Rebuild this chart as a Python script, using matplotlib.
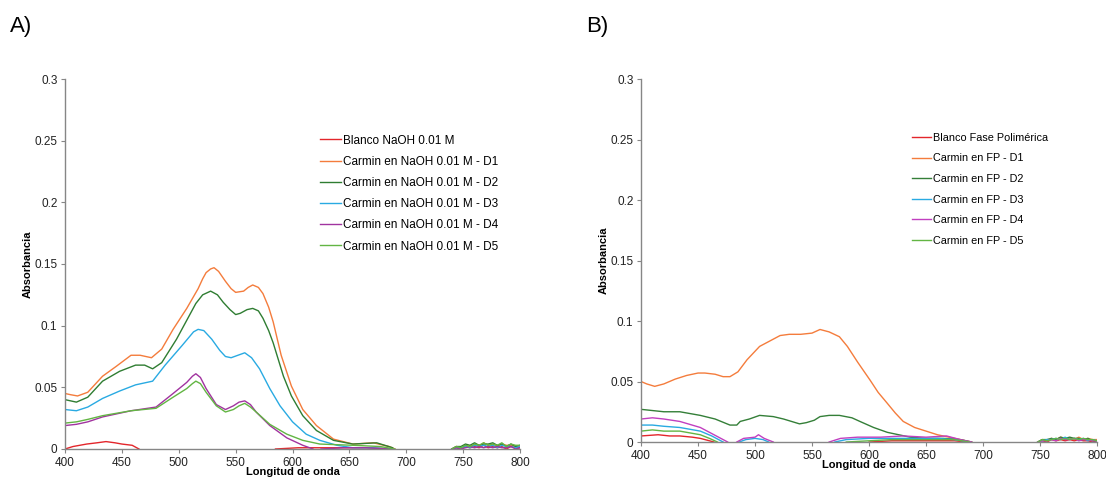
import numpy as np
import matplotlib
matplotlib.use("Agg")
import matplotlib.pyplot as plt
from matplotlib.ticker import FuncFormatter

plt.rcParams["font.family"] = ["Liberation Sans", "DejaVu Sans"]

NA = np.nan

# ---------------- Panel A: Carmín en NaOH 0.01 M ----------------
labels_a = ["Blanco NaOH 0.01 M",
            "Carmin en NaOH 0.01 M - D1",
            "Carmin en NaOH 0.01 M - D2",
            "Carmin en NaOH 0.01 M - D3",
            "Carmin en NaOH 0.01 M - D4",
            "Carmin en NaOH 0.01 M - D5"]
colors_a = ["#e3262b", "#f47c3c", "#2f7d32", "#29aae2", "#a1339f", "#62b543"]

wl_a_blank = [400, 407, 419, 428, 436, 444, 450, 459, 465, NA, 585, 605, 625, 645, 665, 688]
abs_a_blank = [0.000, 0.002, 0.004, 0.005, 0.006, 0.005, 0.004, 0.003, 0.000, NA, 0.000, 0.001, 0.001, 0.001, 0.001, 0.000]

wl_a_d1 = [400, 405, 411, 420, 433, 445, 458, 466, 476, 485, 495, 507, 517, 521, 524, 528, 531, 535, 541,
           546, 550, 557, 561, 565, 570, 574, 579, 583, 590, 599, 609, 621, 636, 653, 671, 685, 690]
abs_a_d1 = [0.045, 0.044, 0.043, 0.046, 0.059, 0.067, 0.076, 0.076, 0.074, 0.081, 0.097, 0.114, 0.130, 0.138,
            0.143, 0.146, 0.147, 0.144, 0.136, 0.130, 0.127, 0.128, 0.131, 0.133, 0.131, 0.126, 0.115,
            0.103, 0.076, 0.051, 0.032, 0.019, 0.008, 0.004, 0.005, 0.002, 0.000]

wl_a_d2 = [400, 410, 420, 433, 448, 462, 470, 477, 485, 498, 515, 521, 528, 534, 539, 545, 550, 554, 560,
           565, 570, 574, 579, 583, 592, 599, 609, 621, 636, 653, 674, 688]
abs_a_d2 = [0.040, 0.038, 0.042, 0.055, 0.063, 0.068, 0.068, 0.065, 0.070, 0.089, 0.118, 0.125, 0.128,
            0.125, 0.119, 0.113, 0.109, 0.110, 0.113, 0.114, 0.112, 0.106, 0.096, 0.086, 0.059, 0.043,
            0.027, 0.015, 0.007, 0.004, 0.005, 0.001]

wl_a_d3 = [400, 410, 420, 433, 448, 462, 477, 488, 503, 513, 517, 522, 529, 536, 541, 546, 552, 558,
           564, 571, 580, 589, 600, 612, 624, 639, 653, 670, 688]
abs_a_d3 = [0.032, 0.031, 0.034, 0.041, 0.047, 0.052, 0.055, 0.068, 0.084, 0.095, 0.097, 0.096, 0.089,
            0.080, 0.075, 0.074, 0.076, 0.078, 0.074, 0.065, 0.049, 0.035, 0.022, 0.012, 0.007, 0.003,
            0.001, 0.001, 0.000]

wl_a_d4 = [400, 410, 420, 433, 458, 480, 495, 507, 512, 515, 519, 524, 533, 541, 548, 553, 558, 563,
           568, 580, 595, 609, 618, NA, 625, 645, 665, 685]
abs_a_d4 = [0.019, 0.020, 0.022, 0.026, 0.031, 0.034, 0.045, 0.054, 0.059, 0.061, 0.058, 0.049, 0.036,
            0.032, 0.035, 0.038, 0.039, 0.036, 0.030, 0.019, 0.009, 0.003, 0.000, NA, 0.000, 0.001,
            0.001, 0.000]

wl_a_d5 = [400, 410, 420, 433, 458, 480, 495, 507, 512, 515, 519, 524, 533, 541, 548, 553, 558, 563,
           568, 580, 595, 609, 624, 653, 677, 690]
abs_a_d5 = [0.021, 0.022, 0.024, 0.027, 0.031, 0.033, 0.042, 0.049, 0.053, 0.055, 0.053, 0.046, 0.035,
            0.030, 0.032, 0.035, 0.037, 0.034, 0.030, 0.020, 0.012, 0.007, 0.004, 0.003, 0.002, 0.000]

# noisy baseline band at the red end of the spectrum
tail_wl_a = [740, 744, 748, 752, 756, 760, 764, 768, 772, 776, 780, 784, 788, 792, 796, 800]
tail_a_blank = [0.000, 0.001, 0.000, 0.002, 0.001, 0.002, 0.001, 0.003, 0.001, 0.002, 0.001, 0.002, 0.000, 0.002, 0.001, 0.001]
tail_a_d1 = [0.000, 0.002, 0.001, 0.003, 0.002, 0.004, 0.002, 0.005, 0.003, 0.004, 0.002, 0.004, 0.003, 0.003, 0.002, 0.002]
tail_a_d2 = [0.000, 0.002, 0.002, 0.004, 0.003, 0.005, 0.003, 0.004, 0.004, 0.005, 0.003, 0.004, 0.002, 0.004, 0.002, 0.003]
tail_a_d3 = [0.000, 0.001, 0.001, 0.002, 0.001, 0.003, 0.002, 0.003, 0.002, 0.003, 0.001, 0.003, 0.002, 0.002, 0.001, 0.002]
tail_a_d4 = [0.000, 0.001, 0.000, 0.001, 0.002, 0.001, 0.002, 0.001, 0.002, 0.001, 0.002, 0.001, 0.001, 0.002, 0.000, 0.001]
tail_a_d5 = [0.000, 0.002, 0.001, 0.003, 0.002, 0.004, 0.003, 0.005, 0.003, 0.004, 0.003, 0.005, 0.002, 0.004, 0.003, 0.003]

# ---------------- Panel B: Carmín en fase polimérica ----------------
labels_b = ["Blanco Fase Polimérica",
            "Carmin en FP - D1",
            "Carmin en FP - D2",
            "Carmin en FP - D3",
            "Carmin en FP - D4",
            "Carmin en FP - D5"]
colors_b = ["#e3262b", "#f47c3c", "#347f38", "#29aae2", "#c13fc0", "#62b543"]

wl_b_blank = [400, 415, 425, 434, 445, 452, 460, 464, NA, 600, 620, 640, 660, 675, 685]
abs_b_blank = [0.005, 0.006, 0.005, 0.005, 0.004, 0.003, 0.001, 0.000, NA, 0.000, 0.001, 0.001, 0.001, 0.001, 0.000]

wl_b_d1 = [400, 405, 412, 420, 430, 440, 450, 456, 465, 472, 478, 485, 493, 504, 512, 522, 530, 540,
           550, 557, 565, 574, 581, 590, 601, 608, 616, 623, 630, 640, 650, 660, 670, 680, 690]
abs_b_d1 = [0.050, 0.048, 0.046, 0.048, 0.052, 0.055, 0.057, 0.057, 0.056, 0.054, 0.054, 0.058, 0.068,
            0.079, 0.083, 0.088, 0.089, 0.089, 0.090, 0.093, 0.091, 0.087, 0.079, 0.066, 0.051, 0.041,
            0.032, 0.024, 0.017, 0.012, 0.009, 0.006, 0.004, 0.002, 0.000]

wl_b_d2 = [400, 410, 420, 434, 452, 465, 478, 484, 487, 495, 504, 516, 525, 539, 545, 552, 557, 565,
           574, 585, 592, 604, 616, 626, 636, 650, 665, 680, 690]
abs_b_d2 = [0.027, 0.026, 0.025, 0.025, 0.022, 0.019, 0.014, 0.014, 0.017, 0.019, 0.022, 0.021, 0.019,
            0.015, 0.016, 0.018, 0.021, 0.022, 0.022, 0.020, 0.017, 0.012, 0.008, 0.006, 0.004, 0.003,
            0.003, 0.002, 0.000]

wl_b_d3 = [400, 410, 420, 434, 452, 462, 468, 472, NA, 486, 492, 500, 507, 512, NA,
           570, 580, 600, 620, 640, 660, 675, 688]
abs_b_d3 = [0.014, 0.014, 0.013, 0.012, 0.009, 0.005, 0.002, 0.000, NA, 0.000, 0.002, 0.003, 0.002, 0.000, NA,
            0.000, 0.002, 0.003, 0.003, 0.003, 0.003, 0.002, 0.000]

wl_b_d4 = [400, 410, 420, 434, 452, 462, 470, 476, NA, 484, 490, 500, 503, 508, 516, NA,
           565, 575, 590, 610, 630, 650, 668, 680, 690]
abs_b_d4 = [0.019, 0.020, 0.019, 0.017, 0.012, 0.007, 0.003, 0.000, NA, 0.000, 0.003, 0.004, 0.006, 0.003, 0.000, NA,
            0.000, 0.003, 0.004, 0.004, 0.005, 0.004, 0.005, 0.002, 0.000]

wl_b_d5 = [400, 410, 420, 434, 452, 460, 467, NA, 580, 600, 620, 640, 660, 675, 688]
abs_b_d5 = [0.009, 0.010, 0.009, 0.009, 0.006, 0.003, 0.000, NA, 0.000, 0.001, 0.002, 0.002, 0.002, 0.002, 0.000]

tail_wl_b = [748, 752, 756, 760, 764, 768, 772, 776, 780, 784, 788, 792, 796, 800]
tail_b_blank = [0.000, 0.001, 0.000, 0.002, 0.001, 0.002, 0.001, 0.002, 0.001, 0.002, 0.001, 0.001, 0.000, 0.001]
tail_b_d1 = [0.000, 0.002, 0.001, 0.003, 0.002, 0.004, 0.003, 0.003, 0.002, 0.004, 0.002, 0.003, 0.002, 0.002]
tail_b_d2 = [0.000, 0.002, 0.002, 0.003, 0.002, 0.004, 0.003, 0.004, 0.003, 0.003, 0.002, 0.003, 0.001, 0.001]
tail_b_d3 = [0.000, 0.001, 0.002, 0.002, 0.003, 0.002, 0.004, 0.002, 0.003, 0.002, 0.003, 0.001, 0.002, 0.001]
tail_b_d4 = [0.000, 0.001, 0.001, 0.002, 0.001, 0.003, 0.002, 0.002, 0.003, 0.001, 0.002, 0.002, 0.001, 0.001]
tail_b_d5 = [0.000, 0.002, 0.001, 0.002, 0.003, 0.002, 0.003, 0.002, 0.003, 0.002, 0.003, 0.002, 0.002, 0.001]

series_a = [(wl_a_blank, abs_a_blank, tail_a_blank), (wl_a_d1, abs_a_d1, tail_a_d1),
            (wl_a_d2, abs_a_d2, tail_a_d2), (wl_a_d3, abs_a_d3, tail_a_d3),
            (wl_a_d4, abs_a_d4, tail_a_d4), (wl_a_d5, abs_a_d5, tail_a_d5)]
series_b = [(wl_b_blank, abs_b_blank, tail_b_blank), (wl_b_d1, abs_b_d1, tail_b_d1),
            (wl_b_d2, abs_b_d2, tail_b_d2), (wl_b_d3, abs_b_d3, tail_b_d3),
            (wl_b_d4, abs_b_d4, tail_b_d4), (wl_b_d5, abs_b_d5, tail_b_d5)]

fig = plt.figure(figsize=(11.06, 4.78), dpi=100)
ax_a = fig.add_axes([0.0588, 0.0607, 0.4114, 0.774])
ax_b = fig.add_axes([0.5796, 0.0753, 0.4123, 0.7594])

axis_grey = "#868686"


def draw(ax, series, tail_wl, labels, colors, leg_xy, leg_size, leg_space):
    for (wl, ab, tail), lab, col in zip(series, labels, colors):
        x = list(wl) + [NA] + list(tail_wl)
        y = list(ab) + [NA] + list(tail)
        ax.plot(x, y, color=col, lw=1.0, label=lab)
    ax.set_xlim(400, 800)
    ax.set_ylim(0, 0.3)
    ax.set_xticks([400, 450, 500, 550, 600, 650, 700, 750, 800])
    ax.set_yticks([0, 0.05, 0.1, 0.15, 0.2, 0.25, 0.3])
    ax.yaxis.set_major_formatter(FuncFormatter(lambda v, p: "%g" % round(v, 2)))
    for s in ["top", "right"]:
        ax.spines[s].set_visible(False)
    for s in ["left", "bottom"]:
        ax.spines[s].set_color(axis_grey)
        ax.spines[s].set_linewidth(1.0)
    ax.tick_params(axis="both", direction="out", length=3, width=0.8, color=axis_grey,
                   labelsize=8.5, labelcolor="#222222", pad=2.5)
    ax.set_xlabel("Longitud de onda", fontsize=8, fontweight="bold", labelpad=-1.5)
    ax.set_ylabel("Absorbancia", fontsize=8, fontweight="bold", labelpad=1)
    ax.legend(loc="upper left", bbox_to_anchor=leg_xy, frameon=False, fontsize=leg_size,
              handlelength=1.8, handletextpad=0.15, labelspacing=leg_space, borderpad=0,
              borderaxespad=0)


draw(ax_a, series_a, tail_wl_a, labels_a, colors_a, (0.56, 0.85), 8.5, 0.78)
draw(ax_b, series_b, tail_wl_b, labels_b, colors_b, (0.594, 0.852), 7.8, 0.98)

fig.text(0.009, 0.945, "A)", fontsize=16, va="center")
fig.text(0.530, 0.945, "B)", fontsize=16, va="center")

fig.savefig("out.png", dpi=100)
